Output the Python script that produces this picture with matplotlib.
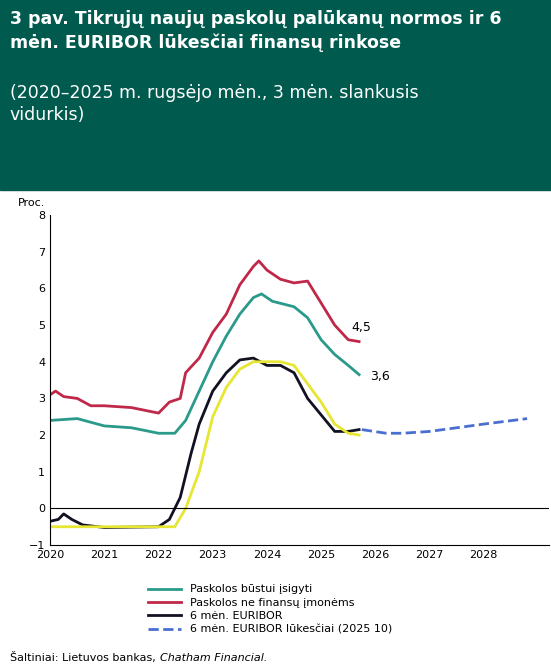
import matplotlib.pyplot as plt
import numpy as np

# data (x = fractional year)
x_green = [2020, 2020.5, 2021, 2021.5, 2022, 2022.3, 2022.5, 2022.75, 2023, 2023.25, 2023.5,
           2023.75, 2023.9, 2024.1, 2024.5, 2024.75, 2025, 2025.25, 2025.5, 2025.7]
y_green = [2.4, 2.45, 2.25, 2.2, 2.05, 2.05, 2.4, 3.2, 4.0, 4.7, 5.3,
           5.75, 5.85, 5.65, 5.5, 5.2, 4.6, 4.2, 3.9, 3.65]
x_red = [2020, 2020.1, 2020.25, 2020.5, 2020.75, 2021, 2021.5, 2022, 2022.2, 2022.4, 2022.5,
         2022.75, 2023, 2023.25, 2023.5, 2023.75, 2023.85, 2024, 2024.25, 2024.5, 2024.75,
         2025, 2025.25, 2025.5, 2025.7]
y_red = [3.1, 3.2, 3.05, 3.0, 2.8, 2.8, 2.75, 2.6, 2.9, 3.0, 3.7,
         4.1, 4.8, 5.3, 6.1, 6.6, 6.75, 6.5, 6.25, 6.15, 6.2,
         5.6, 5.0, 4.6, 4.55]
x_blk = [2020, 2020.15, 2020.25, 2020.4, 2020.6, 2021, 2022, 2022.2, 2022.4, 2022.6, 2022.75,
         2023, 2023.25, 2023.5, 2023.75, 2024, 2024.25, 2024.5, 2024.75, 2025, 2025.25,
         2025.5, 2025.7]
y_blk = [-0.35, -0.3, -0.15, -0.3, -0.45, -0.52, -0.5, -0.3, 0.3, 1.5, 2.3,
         3.2, 3.7, 4.05, 4.1, 3.9, 3.9, 3.7, 3.0, 2.55, 2.1,
         2.1, 2.15]
x_yel = [2020, 2021, 2022, 2022.3, 2022.5, 2022.75, 2023, 2023.25, 2023.5, 2023.75, 2024.25,
         2024.5, 2024.75, 2025, 2025.25, 2025.5, 2025.7]
y_yel = [-0.5, -0.5, -0.5, -0.5, 0.0, 1.0, 2.5, 3.3, 3.8, 4.0, 4.0,
         3.9, 3.4, 2.9, 2.3, 2.05, 2.0]
x_exp = [2025.75, 2026.2, 2026.5, 2027, 2027.5, 2028, 2028.8]
y_exp = [2.15, 2.05, 2.05, 2.1, 2.2, 2.3, 2.45]
years = list(range(2020, 2029))

fig = plt.figure(figsize=(5.51, 6.68), dpi=100)
fig.patches.append(plt.Rectangle((0, 1 - 190/668), 1, 190/668, transform=fig.transFigure,
                                 color='#005a4e', zorder=0))
fig.text(0.018, 0.985, '3 pav. Tikrųjų naujų paskolų palūkanų normos ir 6\nmėn. EURIBOR lūkesčiai finansų rinkose',
         color='white', fontsize=12.5, fontweight='bold', va='top', linespacing=1.35)
fig.text(0.018, 0.875, '(2020–2025 m. rugsėjo mėn., 3 mėn. slankusis\nvidurkis)',
         color='white', fontsize=12.5, va='top', linespacing=1.35)

ax = fig.add_axes([0.091, 0.184, 0.905, 0.494])
ax.plot(x_green, y_green, color='#2a9a8a', lw=2)
ax.plot(x_red, y_red, color='#c0284a', lw=2)
ax.plot(x_blk, y_blk, color='#111122', lw=2)
ax.plot(x_yel, y_yel, color='#e6e633', lw=2)
ax.plot(x_exp, y_exp, color='#4a6fd0', lw=2, ls='--')
ax.axhline(0, color='black', lw=0.8)
ax.text(x_red[-1] - 0.15, 4.85, '4,5', fontsize=9)
ax.text(x_green[-1] + 0.2, 3.6, '3,6', fontsize=9, va='center')
ax.set_xlim(2020, 2029.2)
ax.set_ylim(-1, 8)
ax.set_xticks(years)
ax.set_yticks(range(-1, 9))
ax.tick_params(labelsize=8, length=0)
for s in ['top', 'right']:
    ax.spines[s].set_visible(False)
ax.text(-0.065, 1.02, 'Proc.', transform=ax.transAxes, fontsize=8, va='bottom')

handles = [plt.Line2D([], [], color='#2a9a8a', lw=2),
           plt.Line2D([], [], color='#c0284a', lw=2),
           plt.Line2D([], [], color='#111122', lw=2),
           plt.Line2D([], [], color='#4a6fd0', lw=2, ls='--')]
labels = ['Paskolos būstui įsigyti', 'Paskolos ne finansų įmonėms', '6 mėn. EURIBOR',
          '6 mėn. EURIBOR lūkesčiai (2025 10)']
fig.legend(handles, labels, loc='upper left', bbox_to_anchor=(0.25, 0.14), frameon=False,
           fontsize=8, handlelength=3, labelspacing=0.3)
src = fig.text(0.018, 0.01, 'Šaltiniai: Lietuvos bankas,', fontsize=8)
fig.canvas.draw()
bb = src.get_window_extent(fig.canvas.get_renderer())
fig.text(bb.x1 / fig.bbox.width + 0.008, 0.01, 'Chatham Financial.', fontsize=8, style='italic')
fig.savefig('out.png')
